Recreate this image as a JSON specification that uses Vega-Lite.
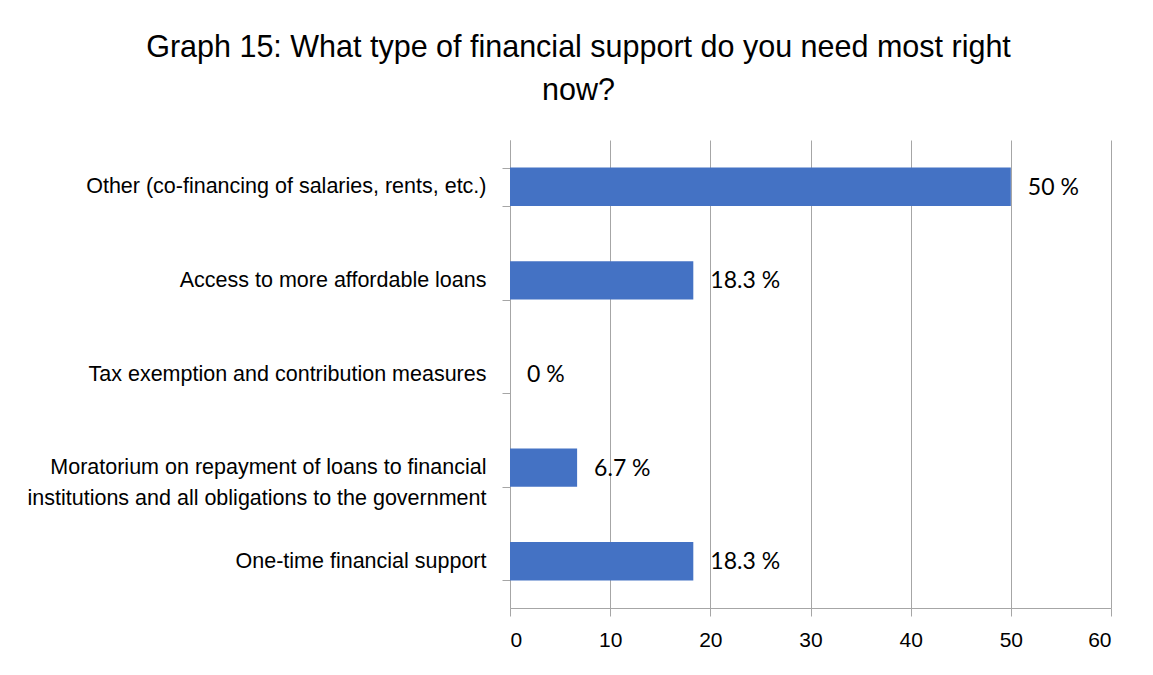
{
  "$schema": "https://vega.github.io/schema/vega-lite/v6.json",
  "autosize": {"type": "none"},
  "width": 601,
  "height": 468,
  "padding": {"left": 510, "top": 140, "right": 42, "bottom": 67},
  "background": "white",
  "title": {
    "text": ["Graph 15: What type of financial support do you need most right", "now?"],
    "font": "Liberation Sans",
    "fontSize": 30.5,
    "fontWeight": "normal",
    "color": "#000000",
    "lineHeight": 43,
    "anchor": "middle",
    "dx": -232,
    "offset": 23
  },
  "data": {
    "values": [
      {"category": "Other (co-financing of salaries, rents, etc.)", "value": 50, "label": "50 %", "order": 1},
      {"category": "Access to more affordable loans", "value": 18.3, "label": "18.3 %", "order": 2},
      {"category": "Tax exemption and contribution measures", "value": 0, "label": "0 %", "order": 3},
      {"category": "Moratorium on repayment of loans to financial|institutions and all obligations to the government", "value": 6.7, "label": "6.7 %", "order": 4},
      {"category": "One-time financial support", "value": 18.3, "label": "18.3 %", "order": 5}
    ]
  },
  "encoding": {
    "y": {
      "field": "category",
      "type": "nominal",
      "sort": {"field": "order", "op": "min", "order": "ascending"},
      "scale": {"paddingInner": 0.59, "paddingOuter": 0.295},
      "axis": {
        "title": null,
        "labelExpr": "split(datum.label, '|')",
        "labelFont": "Liberation Sans",
        "labelFontSize": 21.5,
        "labelColor": "#000000",
        "labelLineHeight": 31,
        "labelLimit": 600,
        "labelPadding": 16,
        "tickBand": "extent",
        "tickSize": 8,
        "tickColor": "#a6a6a6",
        "domainColor": "#a6a6a6",
        "grid": false
      }
    },
    "x": {
      "field": "value",
      "type": "quantitative",
      "scale": {"domain": [0, 60], "nice": false},
      "axis": {
        "title": null,
        "values": [0, 10, 20, 30, 40, 50, 60],
        "labelFont": "Liberation Sans",
        "labelFontSize": 21,
        "labelColor": "#000000",
        "labelPadding": 13,
        "tickSize": 8,
        "tickColor": "#a6a6a6",
        "domainColor": "#a6a6a6",
        "grid": true,
        "gridColor": "#a6a6a6",
        "gridWidth": 1
      }
    }
  },
  "layer": [
    {"mark": {"type": "bar", "color": "#4472C4"}},
    {
      "mark": {"type": "text", "align": "left", "baseline": "middle", "dx": 17, "dy": 1, "font": "Lato", "fontSize": 23, "color": "#000000"},
      "encoding": {"text": {"field": "label"}}
    }
  ],
  "config": {"view": {"stroke": null}}
}
